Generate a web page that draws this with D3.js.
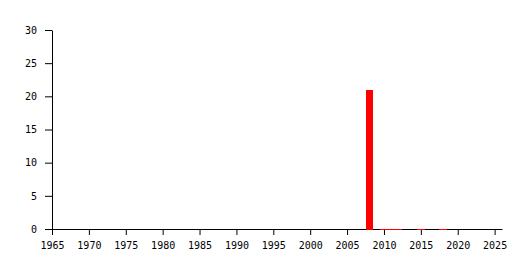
<!DOCTYPE html>
<html>
<head>
<meta charset="utf-8">
<script src="https://cdn.jsdelivr.net/npm/d3@7"></script>
<style>
  body { margin: 0; background: #fff; }
  text { font-family: "DejaVu Sans Mono", monospace; font-size: 10px; fill: #000; }
</style>
</head>
<body>
<svg id="chart" width="530" height="270"></svg>
<script>
// DATA
const years = [2008, 2010, 2011, 2012, 2015, 2018];
const counts = [21, 0.02, 0.02, 0.02, 0.02, 0.02];
const xTicks = [1965, 1970, 1975, 1980, 1985, 1990, 1995, 2000, 2005, 2010, 2015, 2020, 2025];
const yTicks = [0, 5, 10, 15, 20, 25, 30];

const data = years.map((y, i) => ({ year: y, count: counts[i] }));

const svg = d3.select("#chart");

// scales
const x = d3.scaleLinear().domain([1965, 2026]).range([52, 502]);
const y = d3.scaleLinear().domain([0, 30]).range([229, 30]);

// x axis
svg.append("g")
  .attr("transform", `translate(0,${y(0)})`)
  .call(d3.axisBottom(x)
    .tickValues(xTicks)
    .tickFormat(d3.format("d"))
    .tickSize(6)
    .tickSizeOuter(0)
    .tickPadding(7));

// y axis
svg.append("g")
  .attr("transform", `translate(${x(1965)},0)`)
  .call(d3.axisLeft(y)
    .tickValues(yTicks)
    .tickSize(7)
    .tickSizeOuter(0)
    .tickPadding(8));

svg.selectAll(".domain, .tick line").attr("stroke", "#000");
svg.selectAll(".tick text").attr("font-family", null).attr("font-size", null);

// bars drawn on top of the axis line, one year wide, centred on the year
svg.selectAll("rect")
  .data(data)
  .enter()
  .append("rect")
  .attr("x", d => x(d.year - 0.5))
  .attr("width", d => x(d.year + 0.5) - x(d.year - 0.5))
  .attr("y", d => y(d.count))
  .attr("height", d => y(0) + 1 - y(d.count))
  .attr("fill", "#ff0000")
  .attr("shape-rendering", "crispEdges");
</script>
</body>
</html>
